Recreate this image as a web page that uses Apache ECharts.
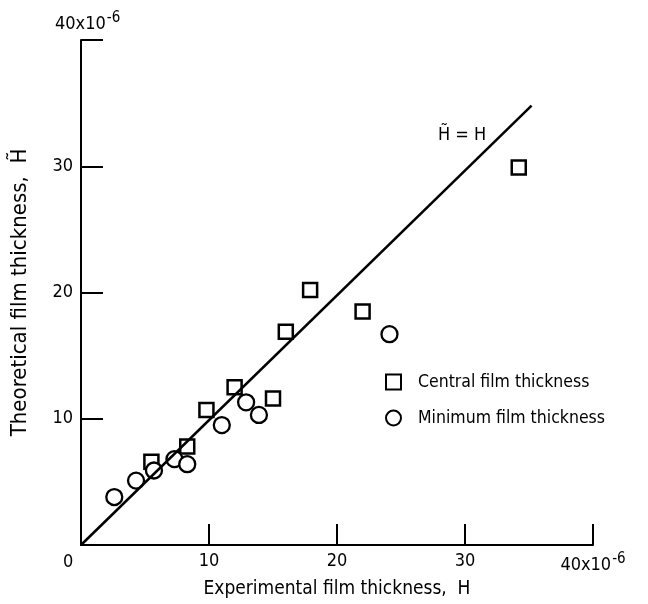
<!DOCTYPE html>
<html>
<head>
<meta charset="utf-8">
<script src="https://cdn.jsdelivr.net/npm/echarts@6/dist/echarts.min.js"></script>
<style>
  html, body { margin: 0; padding: 0; background: #fff; }
  #chart { width: 648px; height: 604px; }
</style>
</head>
<body>
<div id="chart"></div>
<script>
// Experimental vs. theoretical film thickness (units of 1e-6)
const xTicks = [0, 10, 20, 30, 40];
const yTicks = [0, 10, 20, 30, 40];

// Central film thickness: [experimental H, theoretical H~]
const centralH = [
  [5.5, 6.6], [8.3, 7.8], [9.8, 10.7], [12.0, 12.5], [15.0, 11.6],
  [16.0, 16.9], [17.9, 20.2], [22.0, 18.5], [34.2, 29.9]
];
// Minimum film thickness: [experimental H, theoretical H~]
const minimumH = [
  [2.6, 3.8], [4.3, 5.1], [5.7, 5.9], [7.3, 6.8], [8.3, 6.4],
  [11.0, 9.5], [12.9, 11.3], [13.9, 10.3], [24.1, 16.7]
];
// Equality line H~ = H
const equalityLine = [[0, 0], [35.2, 34.8]];

const FONT = '"Liberation Sans Narrow", "DejaVu Sans Condensed", "Noto Sans", sans-serif';
const INK = '#000';

const chart = echarts.init(document.getElementById('chart'), null, { renderer: 'canvas' });

const sup = { fontSize: 15, fontFamily: FONT, color: INK, verticalAlign: 'top', padding: [0, 0, 11, 1] };
const base = { fontSize: 18, fontFamily: FONT, color: INK };

chart.setOption({
  backgroundColor: '#fff',
  animation: false,
  grid: { left: 81, right: 55, top: 40, bottom: 57, containLabel: false },
  xAxis: {
    type: 'value', min: xTicks[0], max: xTicks[xTicks.length - 1], interval: 10,
    axisLine: { show: true, lineStyle: { color: INK, width: 2 } },
    axisTick: { show: true, inside: true, length: 21, lineStyle: { color: INK, width: 2 } },
    splitLine: { show: false },
    axisLabel: {
      margin: 7, fontSize: 18, fontFamily: FONT, color: INK,
      formatter: v => v === 0 ? '' : (v === 40 ? '{b|40x10}{s|-6}' : String(v)),
      rich: { b: base, s: sup }
    },
    name: 'Experimental film thickness,  H', nameLocation: 'middle', nameGap: 35,
    nameTextStyle: { fontSize: 19, fontFamily: FONT, color: INK }
  },
  yAxis: {
    type: 'value', min: yTicks[0], max: yTicks[yTicks.length - 1], interval: 10,
    axisLine: { show: true, lineStyle: { color: INK, width: 2 } },
    axisTick: { show: true, inside: true, length: 22, lineStyle: { color: INK, width: 2 } },
    splitLine: { show: false },
    axisLabel: {
      margin: 8, fontSize: 18, fontFamily: FONT, color: INK,
      formatter: v => (v === 0 || v === 40) ? '' : String(v)
    },
    name: 'Theoretical film thickness,  H\u0303', nameLocation: 'middle', nameGap: 50,
    nameTextStyle: { fontSize: 22, fontFamily: FONT, color: INK }
  },
  legend: {
    orient: 'vertical', left: 380, top: 368, itemGap: 18,
    itemWidth: 15, itemHeight: 15,
    textStyle: { fontSize: 17.5, fontFamily: FONT, color: INK, padding: [0, 0, 0, 12] },
    data: ['Central film thickness', 'Minimum film thickness']
  },
  series: [
    {
      name: 'H\u0303 = H', type: 'line', data: equalityLine, symbol: 'none',
      lineStyle: { color: INK, width: 2.5 }, silent: true
    },
    {
      name: 'Central film thickness', type: 'scatter', data: centralH,
      symbol: 'rect', symbolSize: 14,
      itemStyle: { color: '#fff', borderColor: INK, borderWidth: 2.5, opacity: 1 }
    },
    {
      name: 'Minimum film thickness', type: 'scatter', data: minimumH,
      symbol: 'circle', symbolSize: 16,
      itemStyle: { color: '#fff', borderColor: INK, borderWidth: 2.3, opacity: 1 }
    }
  ],
  graphic: [
    { type: 'text', left: 63, top: 553, style: { text: '0', fontSize: 18, fontFamily: FONT, fill: INK } },
    {
      type: 'text', left: 55, top: 11,
      style: {
        text: '{b|40x10}{s|-6}', fontFamily: FONT, fill: INK,
        rich: { b: base, s: sup }
      }
    },
    { type: 'text', left: 438, top: 126, style: { text: 'H\u0303 = H', fontSize: 18, fontFamily: FONT, fill: INK } }
  ]
});
</script>
</body>
</html>
